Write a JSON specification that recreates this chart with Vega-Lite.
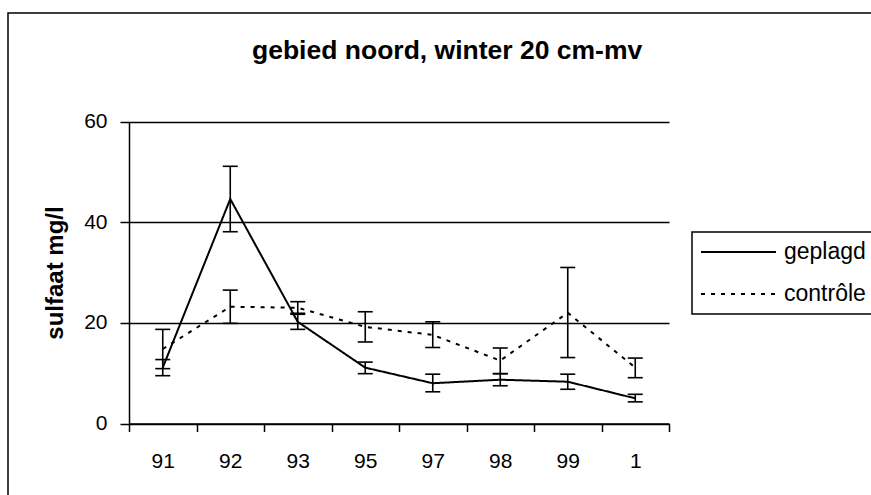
{
  "$schema": "https://vega.github.io/schema/vega-lite/v6.json",
  "width": 867,
  "height": 486,
  "autosize": {"type": "none"},
  "padding": {"left": 8, "top": 13, "right": -4, "bottom": -4},
  "background": "white",
  "title": {
    "text": "gebied noord, winter 20 cm-mv",
    "font": "Liberation Sans",
    "fontSize": 26.5,
    "fontWeight": "bold",
    "color": "black",
    "anchor": "start",
    "frame": "group",
    "baseline": "alphabetic",
    "offset": -72,
    "dx": 244
  },
  "config": {
    "view": {"stroke": "black", "strokeWidth": 1.5},
    "font": "Liberation Sans"
  },
  "data": {
    "values": [
      {"jaar": "91", "reeks": "geplagd", "waarde": 11.1, "laag": 9.5, "hoog": 12.7},
      {"jaar": "92", "reeks": "geplagd", "waarde": 44.6, "laag": 38.1, "hoog": 51.1},
      {"jaar": "93", "reeks": "geplagd", "waarde": 20.2, "laag": 18.7, "hoog": 21.7},
      {"jaar": "95", "reeks": "geplagd", "waarde": 11.1, "laag": 9.9, "hoog": 12.2},
      {"jaar": "97", "reeks": "geplagd", "waarde": 8.0, "laag": 6.3, "hoog": 9.8},
      {"jaar": "98", "reeks": "geplagd", "waarde": 8.7, "laag": 7.5, "hoog": 9.9},
      {"jaar": "99", "reeks": "geplagd", "waarde": 8.3, "laag": 6.8, "hoog": 9.8},
      {"jaar": "1", "reeks": "geplagd", "waarde": 5.0, "laag": 4.3, "hoog": 5.8},
      {"jaar": "91", "reeks": "contrôle", "waarde": 14.8, "laag": 10.9, "hoog": 18.7},
      {"jaar": "92", "reeks": "contrôle", "waarde": 23.2, "laag": 19.9, "hoog": 26.5},
      {"jaar": "93", "reeks": "contrôle", "waarde": 23.0, "laag": 21.9, "hoog": 24.2},
      {"jaar": "95", "reeks": "contrôle", "waarde": 19.2, "laag": 16.2, "hoog": 22.2},
      {"jaar": "97", "reeks": "contrôle", "waarde": 17.6, "laag": 15.1, "hoog": 20.2},
      {"jaar": "98", "reeks": "contrôle", "waarde": 12.5, "laag": 9.9, "hoog": 15.0},
      {"jaar": "99", "reeks": "contrôle", "waarde": 22.0, "laag": 13.1, "hoog": 31.0},
      {"jaar": "1", "reeks": "contrôle", "waarde": 11.1, "laag": 9.1, "hoog": 13.0}
    ]
  },
  "encoding": {
    "x": {
      "field": "jaar",
      "type": "nominal",
      "sort": ["91", "92", "93", "95", "97", "98", "99", "1"],
      "scale": {"type": "band", "paddingInner": 0, "paddingOuter": 0, "range": [121, 661]},
      "axis": {
        "title": null,
        "orient": "bottom",
        "offset": -75.5,
        "labelAngle": 0,
        "tickBand": "extent",
        "tickSize": 8,
        "tickWidth": 1.5,
        "tickColor": "black",
        "domainColor": "black",
        "domainWidth": 1.5,
        "labelFont": "Liberation Sans",
        "labelFontSize": 21,
        "labelColor": "black",
        "labelPadding": 19,
        "grid": false
      }
    }
  },
  "layer": [
    {
      "mark": {"type": "rule", "color": "black", "strokeWidth": 1.6},
      "encoding": {
        "y": {"field": "laag", "type": "quantitative"},
        "y2": {"field": "hoog"},
        "detail": {"field": "reeks"}
      }
    },
    {
      "mark": {"type": "tick", "color": "black", "size": 15, "thickness": 1.6, "opacity": 1},
      "encoding": {
        "y": {"field": "laag", "type": "quantitative"},
        "detail": {"field": "reeks"}
      }
    },
    {
      "mark": {"type": "tick", "color": "black", "size": 15, "thickness": 1.6, "opacity": 1},
      "encoding": {
        "y": {"field": "hoog", "type": "quantitative"},
        "detail": {"field": "reeks"}
      }
    },
    {
      "mark": {"type": "line", "color": "black", "strokeWidth": 2},
      "encoding": {
        "y": {
          "field": "waarde",
          "type": "quantitative",
          "scale": {"domain": [0, 60], "nice": false, "range": [410.5, 108.5]},
          "axis": {
            "title": "sulfaat mg/l",
            "orient": "left",
            "offset": -121,
            "values": [0, 20, 40, 60],
            "grid": true,
            "gridColor": "black",
            "gridWidth": 1.3,
            "gridOpacity": 1,
            "tickSize": 9,
            "tickWidth": 1.5,
            "tickColor": "black",
            "domainColor": "black",
            "domainWidth": 1.5,
            "labelFont": "Liberation Sans",
            "labelFontSize": 21,
            "labelColor": "black",
            "labelPadding": 13,
            "titleFont": "Liberation Sans",
            "titleFontSize": 24,
            "titleFontWeight": "bold",
            "titleColor": "black",
            "titlePadding": 16
          }
        },
        "strokeDash": {
          "field": "reeks",
          "type": "nominal",
          "scale": {"domain": ["geplagd", "contrôle"], "range": [[1, 0], [4, 6]]},
          "legend": {
            "title": null,
            "orient": "none",
            "legendX": 684,
            "legendY": 219,
            "strokeColor": "black",
            "fillColor": "white",
            "padding": 8,
            "symbolType": "stroke",
            "symbolSize": 5625,
            "symbolStrokeWidth": 1.8,
            "symbolStrokeColor": "black",
            "labelFont": "Liberation Sans",
            "labelFontSize": 23,
            "labelColor": "black",
            "labelOffset": 7,
            "clipHeight": 24,
            "rowPadding": 18,
            "encode": {"legend": {"update": {"strokeWidth": {"value": 1.5}}}}
          }
        }
      }
    }
  ]
}
